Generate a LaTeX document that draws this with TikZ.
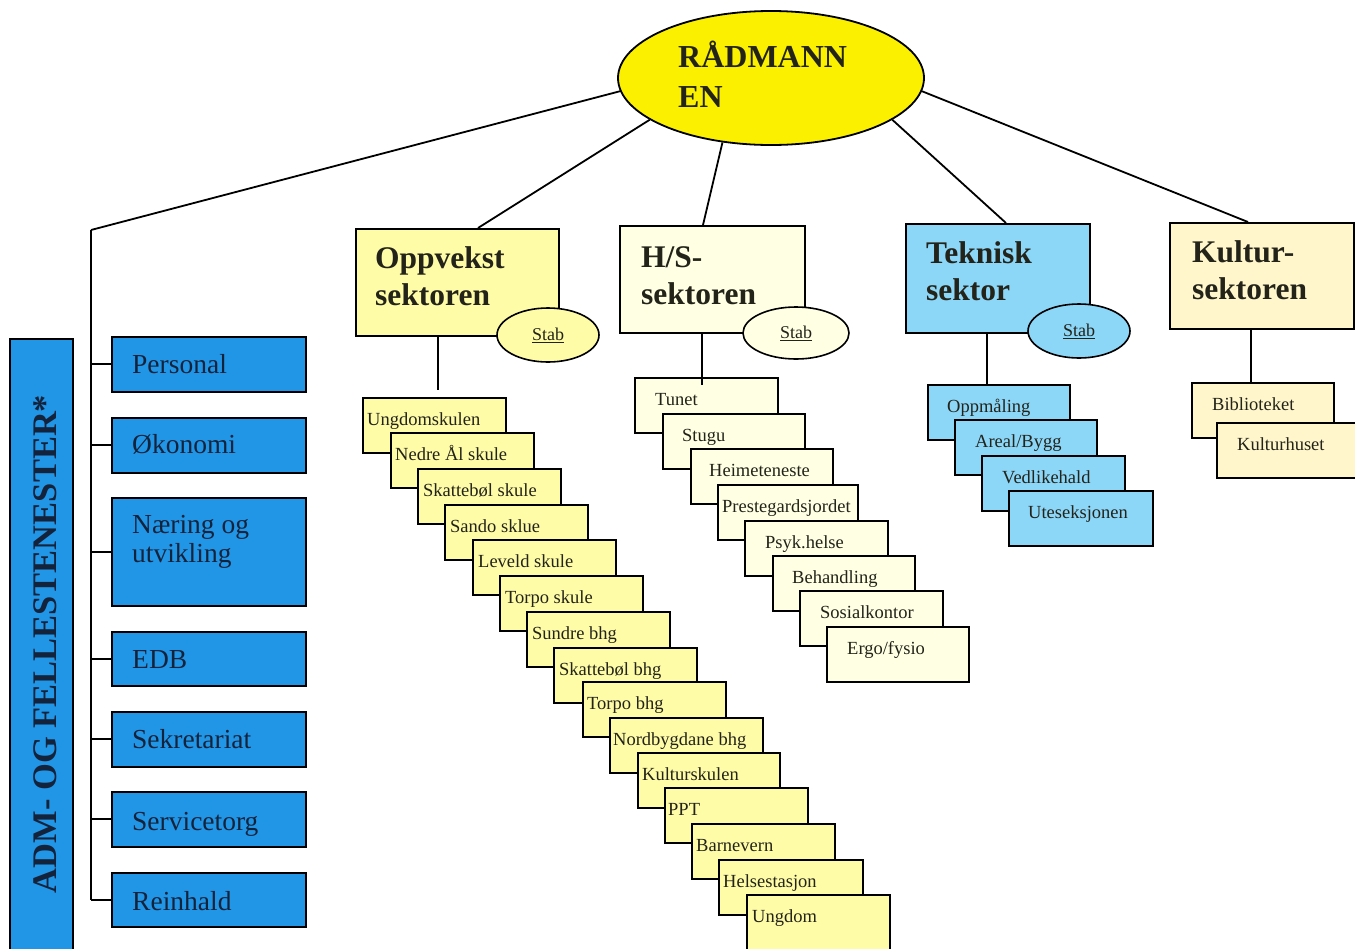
\documentclass[tikz,border=0pt]{standalone}
\usepackage{fontspec}
\setmainfont{Liberation Serif}
\usetikzlibrary{shapes.geometric,calc}
\definecolor{radc}{RGB}{250,240,0}
\definecolor{oppc}{RGB}{255,252,168}
\definecolor{hsc}{RGB}{255,255,228}
\definecolor{tekc}{RGB}{140,214,248}
\definecolor{kulc}{RGB}{255,246,204}
\definecolor{bluec}{RGB}{34,150,230}
\definecolor{txtc}{RGB}{35,35,25}
\definecolor{btxtc}{RGB}{20,35,60}
\tikzset{
  ln/.style={line width=1.8pt, draw=black},
  bx/.style={draw=black, line width=1.6pt, rectangle, inner sep=0pt, anchor=north west},
  oppbx/.style={bx, fill=oppc},
  hsbx/.style={bx, fill=hsc},
  tekbx/.style={bx, fill=tekc},
  kulbx/.style={bx, fill=kulc},
  bluebx/.style={bx, fill=bluec},
  ctxt/.style={font=\fontsize{18.5}{22}\selectfont, text=txtc, inner sep=0pt, anchor=base west},
  btxt/.style={font=\fontsize{27.5}{29}\selectfont, text=btxtc, inner sep=0pt, anchor=base west, align=left},
  sectxt/.style={font=\bfseries\fontsize{31.5}{37.5}\selectfont, text=txtc, inner sep=0pt, anchor=north west, align=left},
  stabell/.style={ellipse, draw=black, line width=1.6pt, minimum width=102pt, minimum height=54pt, inner sep=0pt, font=\fontsize{18}{20}\selectfont, text=txtc},
}
\newcommand{\cbx}[7]{%
  \node[#5, minimum width=#4pt, minimum height=55pt] (#1) at (#2,#3) {};
  \node[ctxt] (#1t) at ($(#1.north west)+(#6,28.5)$) {#7};
}
\newcommand{\bbx}[5]{%
  \node[bluebx, minimum width=194pt, minimum height=#3pt] (#1) at (111,#2) {};
  \node[btxt] (#1t) at ($(#1.north west)+(21,#4)$) {#5};
}
\begin{document}
\begin{tikzpicture}[x=1pt,y=-1pt]
\fill[white] (0,0) rectangle (1355,948);
\clip (0,0) rectangle (1355,948);

% top ellipse
\node[ellipse, draw=black, line width=1.8pt, fill=radc, minimum width=306pt, minimum height=134pt, inner sep=0pt] (rad) at (771,78) {};
\node[font=\bfseries\fontsize{32}{40}\selectfont, text=txtc, inner sep=0pt, anchor=north west, align=left] (radt) at (678,37) {\rule{0pt}{30pt}RÅDMANN\\EN};

% sector boxes
\node[oppbx, minimum width=203pt, minimum height=107pt] (opp) at (355,228) {};
\node[sectxt] (oppt) at (375,244) {\rule{0pt}{24pt}Oppvekst\\sektoren};
\node[hsbx, minimum width=185pt, minimum height=107pt] (hs) at (619,225) {};
\node[sectxt] (hst) at (641,243) {\rule{0pt}{24pt}H/S-\\sektoren};
\node[tekbx, minimum width=184pt, minimum height=109pt] (tek) at (905,223) {};
\node[sectxt] (tekt) at (926,239) {\rule{0pt}{24pt}Teknisk\\sektor};
\node[kulbx, minimum width=184pt, minimum height=106pt] (kul) at (1169,222) {};
\node[sectxt] (kult) at (1192,238) {\rule{0pt}{24pt}Kultur-\\sektoren};

% stab ellipses
\node[stabell, fill=oppc] (oppstab) at (548,335) {\underline{Stab}};
\node[stabell, fill=hsc, minimum width=106pt, minimum height=52pt] (hsstab) at (796,333) {\underline{Stab}};
\node[stabell, fill=tekc] (tekstab) at (1079,331) {\underline{Stab}};

% connectors from top
\coordinate (admtop) at (91,230);
\draw[ln] (rad.185.6) -- (admtop);
\draw[ln] (rad.199.8) -- ($(opp.north west)+(123,0)$);
\draw[ln] (rad.233.8) -- ($(hs.north west)+(84,0)$);
\draw[ln] (rad.341.1) -- ($(tek.north west)+(101,0)$);
\draw[ln] (rad.355.5) -- ($(kul.north west)+(79,0)$);

% ADM column
\node[bluebx, minimum width=63pt, minimum height=640pt] (adm) at (9,338) {};
\node[rotate=90, anchor=base, inner sep=0pt, font=\bfseries\fontsize{34.5}{36}\selectfont, text=btxtc] (admt) at (56,644) {ADM- OG FELLESTENESTER*};

\bbx{pers}{336}{55}{37}{Personal}
\bbx{oko}{417}{55}{36}{Økonomi}
\node[bluebx, minimum width=194pt, minimum height=108pt] (naer) at (111,497) {};
\node[btxt, anchor=north west] (naert) at (132,511) {\rule{0pt}{22pt}Næring og\\utvikling};
\bbx{edb}{631}{54}{37}{EDB}
\bbx{sekr}{711}{55}{37}{Sekretariat}
\bbx{serv}{791}{55}{39}{Servicetorg}
\bbx{rein}{872}{54}{38}{Reinhald}

\draw[ln] (admtop) -- (rein.west -| admtop);
\foreach \b in {pers,oko,naer,edb,sekr,serv,rein}{
  \draw[ln] (\b.west -| admtop) -- (\b.west);
}

% sub connectors
\coordinate (oppend) at (438,390);
\draw[ln] ($(opp.south west)+(83,0)$) -- (oppend);
\coordinate (tekend) at (987,384);
\draw[ln] ($(tek.south west)+(82,0)$) -- (tekend);
\coordinate (kulend) at (1251,382);
\draw[ln] ($(kul.south west)+(82,0)$) -- (kulend);

% Oppvekst cascade
\cbx{o1}{362}{397}{143}{oppbx}{5}{Ungdomskulen}
\cbx{o2}{390}{432}{143}{oppbx}{5}{Nedre Ål skule}
\cbx{o3}{417}{468}{143}{oppbx}{6}{Skattebøl skule}
\cbx{o4}{444}{504}{143}{oppbx}{6}{Sando sklue}
\cbx{o5}{472}{539}{143}{oppbx}{6}{Leveld skule}
\cbx{o6}{499}{575}{143}{oppbx}{6}{Torpo skule}
\cbx{o7}{526}{611}{143}{oppbx}{6}{Sundre bhg}
\cbx{o8}{553}{647}{143}{oppbx}{6}{Skattebøl bhg}
\cbx{o9}{582}{681}{143}{oppbx}{5}{Torpo bhg}
\cbx{o10}{609}{717}{153}{oppbx}{4}{Nordbygdane bhg}
\cbx{o11}{637}{752}{142}{oppbx}{5}{Kulturskulen}
\cbx{o12}{664}{787}{143}{oppbx}{4}{PPT}
\cbx{o13}{691}{823}{143}{oppbx}{5}{Barnevern}
\cbx{o14}{718}{859}{144}{oppbx}{5}{Helsestasjon}
\cbx{o15}{746}{894}{143}{oppbx}{6}{Ungdom}

% H/S cascade
\cbx{h1}{634}{377}{143}{hsbx}{21}{Tunet}
\cbx{h2}{662}{413}{142}{hsbx}{20}{Stugu}
\cbx{h3}{690}{448}{142}{hsbx}{19}{Heimeteneste}
\cbx{h4}{717}{484}{140}{hsbx}{5}{Prestegardsjordet}
\cbx{h5}{744}{520}{143}{hsbx}{21}{Psyk.helse}
\cbx{h6}{772}{555}{142}{hsbx}{20}{Behandling}
\cbx{h7}{799}{590}{143}{hsbx}{21}{Sosialkontor}
\cbx{h8}{826}{626}{142}{hsbx}{21}{Ergo/fysio}
\coordinate (hsend) at (702,385);
\draw[ln] ($(hs.south west)+(83,0)$) -- (hsend);

% Teknisk cascade
\cbx{t1}{927}{384}{142}{tekbx}{20}{Oppmåling}
\cbx{t2}{954}{419}{142}{tekbx}{21}{Areal/Bygg}
\cbx{t3}{981}{455}{143}{tekbx}{21}{Vedlikehald}
\cbx{t4}{1008}{490}{144}{tekbx}{20}{Uteseksjonen}

% Kultur cascade
\cbx{k1}{1191}{382}{142}{kulbx}{21}{Biblioteket}
\cbx{k2}{1216}{422}{150}{kulbx}{21}{Kulturhuset}
\end{tikzpicture}
\end{document}
